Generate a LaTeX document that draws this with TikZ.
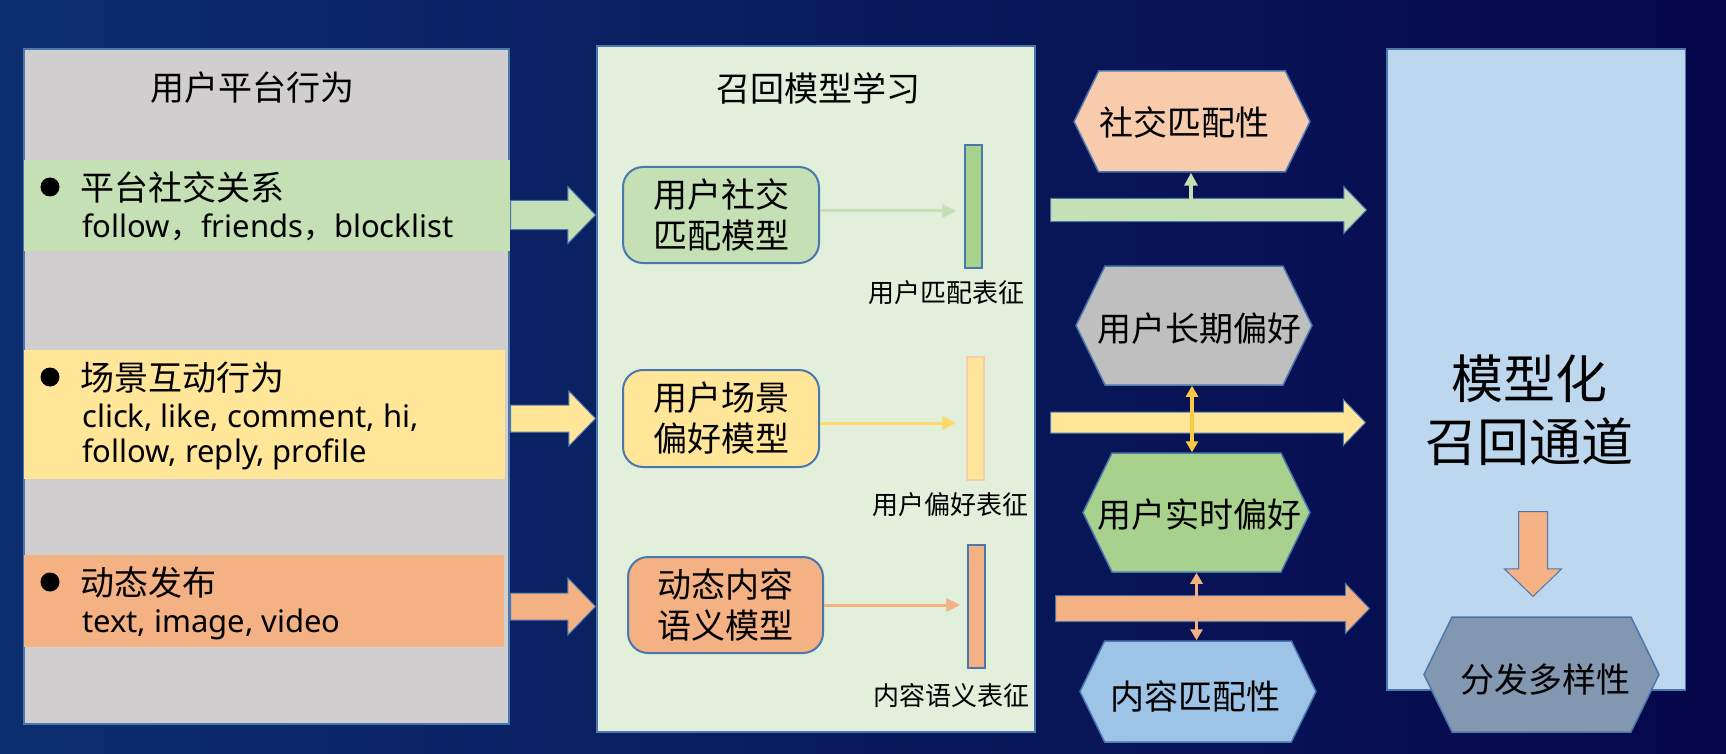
\documentclass[tikz,border=0pt]{standalone}
\usepackage{fontspec}
\setmainfont{Noto Sans CJK SC}
\newfontfamily\latfont{Noto Sans}
\newfontfamily\cjk{Noto Sans CJK SC}
\usetikzlibrary{shapes.arrows,shapes.symbols,arrows.meta}
\definecolor{bgA}{HTML}{0C2E6E}
\definecolor{bgB}{HTML}{06074A}
\definecolor{bord}{HTML}{4A78AE}
\definecolor{gbox}{HTML}{D0CECF}
\definecolor{bgreen}{HTML}{C5E0B4}
\definecolor{byellow}{HTML}{FFE699}
\definecolor{borange}{HTML}{F4B183}
\definecolor{mgreen}{HTML}{E2EFDA}
\definecolor{dgreen}{HTML}{A9D18E}
\definecolor{peach}{HTML}{F8CBAD}
\definecolor{hgray}{HTML}{BFBFBF}
\definecolor{hblue}{HTML}{9DC3E6}
\definecolor{hslate}{HTML}{8497B0}
\definecolor{rblue}{HTML}{BDD7EE}
\definecolor{gold}{HTML}{FFD966}
\definecolor{dgold}{HTML}{F9C946}
\begin{document}
\begin{tikzpicture}[x=1pt,y=-1pt,
  panel/.style={draw=bord, line width=1.5pt, inner sep=0pt},
  band/.style={draw=none, inner sep=0pt},
  cjkt/.style={font=\fontsize{34}{40}\selectfont, inner sep=0pt, text=black},
  lat/.style={font=\latfont\fontsize{31}{36}\selectfont, inner sep=0pt, text=black},
  lab/.style={font=\fontsize{26}{30}\selectfont, inner sep=0pt, text=black},
  dot/.style={circle, fill=black, minimum size=19pt, inner sep=0pt},
  mbox/.style={rounded corners=20pt, draw=bord, line width=2pt, align=center,
    font=\fontsize{34}{41}\selectfont, inner sep=0pt},
  bar/.style={draw=bord, line width=1.5pt, minimum width=17pt, minimum height=123pt, inner sep=0pt},
  hexa/.style={signal, signal to=west and east, signal pointer angle=128, draw=bord,
    line width=1.5pt, inner sep=0pt},
  blk/.style={single arrow, single arrow tip angle=92, single arrow head indent=0pt,
    draw=bord, line width=1pt},
  thinarr/.style={line width=3pt, -{Triangle[length=14pt,width=13pt]}},
  smallarr/.style={line width=4pt, -{Triangle[length=13pt,width=13pt]}},
  dblarr/.style={line width=3.5pt, {Triangle[length=11pt,width=12pt]}-{Triangle[length=11pt,width=12pt]}}
]
\useasboundingbox (0,0) rectangle (1726,754);
\shade[left color=bgA, right color=bgB] (0,0) rectangle (1726,754);

% ---------- left panel ----------
\node[panel, fill=gbox, minimum width=485pt, minimum height=675pt] (L) at (266.5,386.5) {};
\node[cjkt] (Lt) at (252,88) {用户平台行为};
\node[band, fill=bgreen, minimum width=486pt, minimum height=91pt] (G) at (267,205.5) {};
\node[band, fill=byellow, minimum width=481pt, minimum height=129pt] (Y) at (264.5,414.5) {};
\node[band, fill=borange, minimum width=480pt, minimum height=92pt] (O) at (264,601) {};

\node[dot] (d1) at (50,187) {};
\node[cjkt, anchor=west] (t1) at (80,187.5) {平台社交关系};
\node[lat, anchor=base west] (u1) at (82,237) {follow{\cjk ，}friends{\cjk ，}blocklist};

\node[dot] (d2) at (50,377) {};
\node[cjkt, anchor=west] (t2) at (80,377.5) {场景互动行为};
\node[lat, anchor=base west] (u2) at (82,427) {click, like, comment, hi,};
\node[lat, anchor=base west] (u3) at (82,462) {follow, reply, profile};

\node[dot] (d3) at (50,582) {};
\node[cjkt, anchor=west] (t3) at (80,583) {动态发布};
\node[lat, anchor=base west] (u4) at (82,632) {text, image, video};

% ---------- left block arrows ----------
\node[blk, fill=bgreen, minimum height=85pt, inner sep=14pt, single arrow head extend=14pt, anchor=tail] (a1) at (510,215) {};
\node[blk, fill=byellow, minimum height=85pt, inner sep=13pt, single arrow head extend=14pt, anchor=tail] (a2) at (510,418.5) {};
\node[blk, fill=borange, minimum height=85pt, inner sep=13pt, single arrow head extend=15pt, anchor=tail] (a3) at (510,606.5) {};

% ---------- middle panel ----------
\node[panel, fill=mgreen, minimum width=438pt, minimum height=686pt] (M) at (816,389) {};
\node[cjkt] (Mt) at (818,88) {召回模型学习};
\node[mbox, fill=bgreen, minimum width=196pt, minimum height=96pt] (m1) at (721,215) {用户社交\\匹配模型};
\node[mbox, fill=byellow, minimum width=196pt, minimum height=97pt] (m2) at (721,418.5) {用户场景\\偏好模型};
\node[mbox, fill=borange, minimum width=195pt, minimum height=96pt] (m3) at (725.5,605) {动态内容\\语义模型};

\node[bar, fill=dgreen] (b1) at (973.5,206.5) {};
\node[bar, fill=byellow, draw=peach] (b2) at (975.5,418.5) {};
\node[bar, fill=borange] (b3) at (976.5,606.5) {};

\draw[thinarr, draw=bgreen, shorten >=8pt] ([yshift=4pt]m1.east) -- ([yshift=4pt]m1.east -| b1.west);
\draw[thinarr, draw=gold, shorten >=10pt] ([yshift=-4.5pt]m2.east) -- ([yshift=-4.5pt]m2.east -| b2.west);
\draw[thinarr, draw=borange, shorten >=7pt] (m3.east) -- (m3.east -| b3.west);

\node[lab] (l1) at (946,293) {用户匹配表征};
\node[lab] (l2) at (950,505) {用户偏好表征};
\node[lab] (l3) at (951,696) {内容语义表征};

% ---------- right panel ----------
\node[panel, fill=rblue, minimum width=298.5pt, minimum height=641pt] (R) at (1536,369.5) {};
\node[font=\fontsize{52}{63}\selectfont, align=center, inner sep=0pt] (Rt) at (1529,410) {模型化\\召回通道};
\node[blk, fill=borange, shape border rotate=270, minimum height=85pt, inner sep=14pt, single arrow head extend=14pt, anchor=tail] (dn) at (1533,511) {};
\node[hexa, fill=hslate, minimum width=235pt, minimum height=115pt] (h5) at (1541.5,674.5) {};
\node[cjkt] (h5t) at (1545,680) {分发多样性};

% ---------- big right arrows ----------
\node[blk, fill=bgreen, minimum height=316pt, inner sep=11pt, single arrow head extend=12pt, anchor=tail] (A1) at (1050,210) {};
\node[blk, fill=byellow, minimum height=315pt, inner sep=10pt, single arrow head extend=12.5pt, anchor=tail] (A2) at (1050,422.5) {};
\node[blk, fill=borange, minimum height=314pt, inner sep=12.5pt, single arrow head extend=12pt, anchor=tail] (A3) at (1055,608.5) {};

% ---------- hexagons ----------
\node[hexa, fill=peach, minimum width=236pt, minimum height=101pt] (h1) at (1192,121.5) {};
\node[cjkt] (h1t) at (1184,122) {社交匹配性};
\node[hexa, fill=hgray, minimum width=236pt, minimum height=119pt] (h2) at (1194,325.5) {};
\node[cjkt] (h2t) at (1199,329) {用户长期偏好};
\node[hexa, fill=dgreen, minimum width=227pt, minimum height=119pt] (h3) at (1196.5,512.5) {};
\node[cjkt] (h3t) at (1199,515) {用户实时偏好};
\node[hexa, fill=hblue, minimum width=236pt, minimum height=101pt] (h4) at (1198,691.5) {};
\node[cjkt] (h4t) at (1195,696) {内容匹配性};

\coordinate (s1) at (1191,199);
\draw[smallarr, draw=bgreen] (s1) -- (s1 |- h1.south);
\draw[dblarr, draw=dgold] ([xshift=-2pt]h2.south) -- ([xshift=-2pt]h2.south |- h3.north);
\draw[dblarr, draw=borange] (h3.south) -- (h3.south |- h4.north);
\end{tikzpicture}
\end{document}
